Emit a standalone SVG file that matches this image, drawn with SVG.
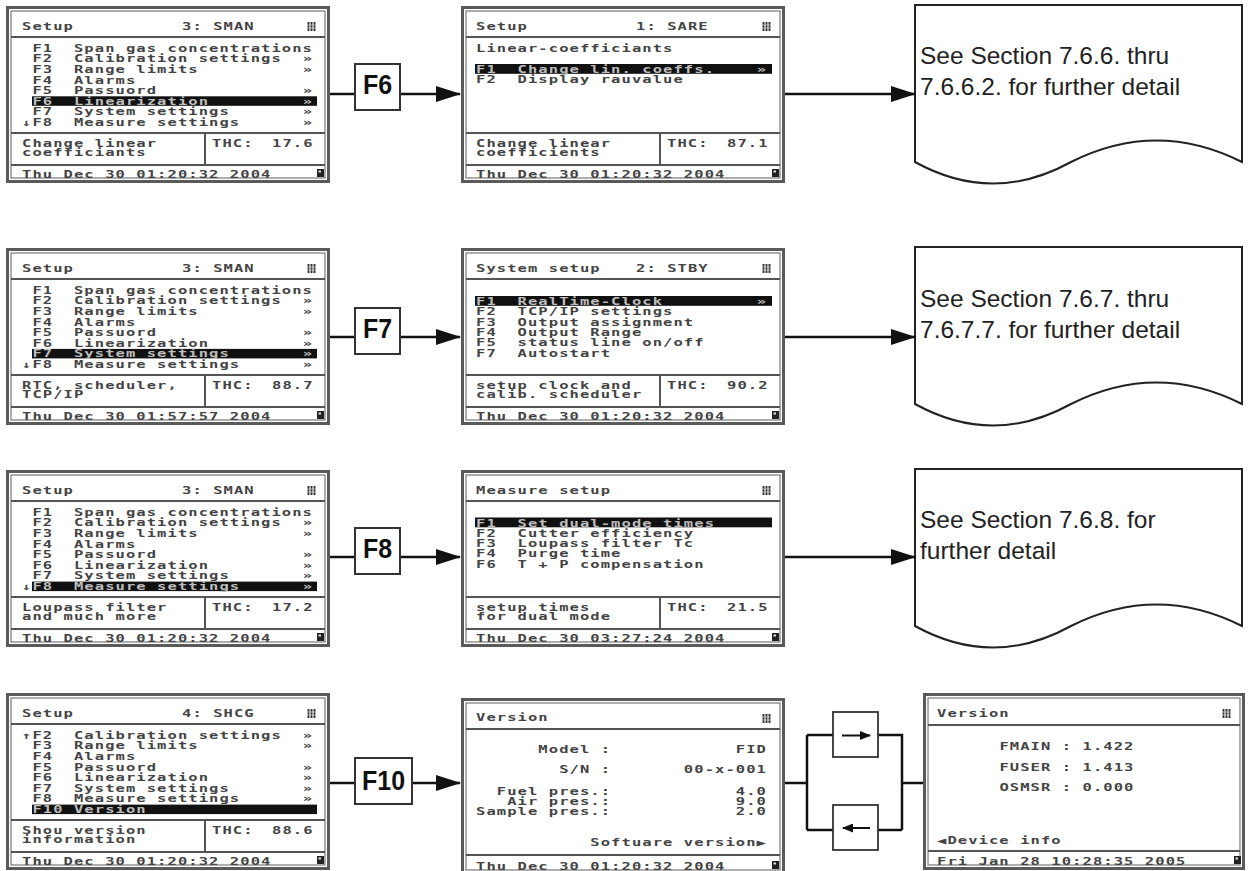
<svg xmlns="http://www.w3.org/2000/svg" width="1249" height="871" viewBox="0 0 1249 871" xml:space="preserve">
<style>
.so{fill:#fff;stroke:#5a5a5a;stroke-width:3}
.si{fill:none;stroke:#777;stroke-width:1.2}
.dv{stroke:#555;stroke-width:2}
.lcd{font-family:"DejaVu Sans Mono","Liberation Mono",monospace;font-weight:bold;font-size:10px;letter-spacing:0.69px;fill:#444;white-space:pre}
.w{fill:#bdbdbd}
.hl{fill:#111}
.doc{fill:#fff;stroke:#222;stroke-width:2}
.dt{font-family:"Liberation Sans",Arial,sans-serif;font-size:24.5px;fill:#222}
.cn{stroke:#111;stroke-width:2.5;fill:none}
.fb{fill:#fff;stroke:#333;stroke-width:2}
.fl{font-family:"Liberation Sans",Arial,sans-serif;font-weight:bold;font-size:25px;fill:#111;text-anchor:middle}
.sb{fill:#fff;stroke:#333;stroke-width:1.8}
</style>
<defs>
<marker id="ah" markerUnits="userSpaceOnUse" markerWidth="25" markerHeight="16" refX="24" refY="8" orient="auto"><path d="M0,0 L25,8 L0,16 Z" fill="#111"/></marker>
<marker id="sa" markerUnits="userSpaceOnUse" markerWidth="11" markerHeight="9" refX="10" refY="4.5" orient="auto"><path d="M0,0 L11,4.5 L0,9 Z" fill="#111"/></marker>
<g id="ticon"><rect x="0" y="0" width="9" height="9" fill="#bbb"/><path d="M1.5,0V9M4.5,0V9M7.5,0V9" stroke="#333" stroke-width="1.4"/><path d="M0,3H9M0,6H9" stroke="#eee" stroke-width="0.6"/></g>
<g id="dicon"><rect x="0" y="0" width="7" height="8" fill="#222"/><rect x="1.5" y="1.5" width="2.5" height="2" fill="#ddd"/></g>
</defs>

<!-- Row 1 -->
<g id="scr-setup-f6" transform="translate(6,6)">
<rect class="so" x="1.5" y="1.5" width="321" height="174"/>
<rect class="si" x="5" y="5" width="314" height="167"/>
<line class="dv" x1="5" y1="31" x2="319" y2="31"/>
<line class="dv" x1="5" y1="127" x2="319" y2="127"/>
<line class="dv" x1="199" y1="127" x2="199" y2="159"/>
<line class="dv" x1="5" y1="159" x2="319" y2="159"/>
<use href="#ticon" x="301" y="16"/>
<use href="#dicon" x="311" y="163"/>
<text class="lcd" transform="translate(16,23.5) scale(1.55,1)">Setup</text>
<text class="lcd" transform="translate(176,23.5) scale(1.55,1)">3: SMAN</text>
<rect class="hl" x="26" y="90.3" width="285" height="9.5"/>
<text class="lcd" transform="translate(16,45.5) scale(1.55,1)"> F1  Span gas concentrations</text>
<text class="lcd" transform="translate(16,56.2) scale(1.55,1)"> F2  Calibration settings</text>
<text class="lcd" transform="translate(16,66.8) scale(1.55,1)"> F3  Range limits</text>
<text class="lcd" transform="translate(16,77.5) scale(1.55,1)"> F4  Alarms</text>
<text class="lcd" transform="translate(16,88.1) scale(1.55,1)"> F5  Passuord</text>
<text class="lcd w" transform="translate(16,98.8) scale(1.55,1)"> F6  Linearization</text>
<text class="lcd" transform="translate(16,109.4) scale(1.55,1)"> F7  System settings</text>
<text class="lcd" transform="translate(16,120.1) scale(1.55,1)">↓F8  Measure settings</text>
<text class="lcd" transform="translate(296.8,56.2) scale(1.55,1)">»</text>
<text class="lcd" transform="translate(296.8,66.8) scale(1.55,1)">»</text>
<text class="lcd" transform="translate(296.8,88.1) scale(1.55,1)">»</text>
<text class="lcd w" transform="translate(296.8,98.8) scale(1.55,1)">»</text>
<text class="lcd" transform="translate(296.8,109.4) scale(1.55,1)">»</text>
<text class="lcd" transform="translate(296.8,120.1) scale(1.55,1)">»</text>
<text class="lcd" transform="translate(16,140.7) scale(1.55,1)">Change linear</text>
<text class="lcd" transform="translate(16,150) scale(1.55,1)">coefficiants</text>
<text class="lcd" transform="translate(206,140.7) scale(1.55,1)">THC:</text>
<text class="lcd" transform="translate(266,140.7) scale(1.55,1)">17.6</text>
<text class="lcd" transform="translate(16,171.5) scale(1.55,1)">Thu Dec 30 01:20:32 2004</text>
</g>

<g id="scr-linear" transform="translate(461,6)">
<rect class="so" x="1.5" y="1.5" width="321" height="174"/>
<rect class="si" x="5" y="5" width="314" height="167"/>
<line class="dv" x1="5" y1="31" x2="319" y2="31"/>
<line class="dv" x1="5" y1="127" x2="319" y2="127"/>
<line class="dv" x1="199" y1="127" x2="199" y2="159"/>
<line class="dv" x1="5" y1="159" x2="319" y2="159"/>
<use href="#ticon" x="301" y="16"/>
<use href="#dicon" x="311" y="163"/>
<text class="lcd" transform="translate(15,23.5) scale(1.55,1)">Setup</text>
<text class="lcd" transform="translate(175,23.5) scale(1.55,1)">1: SARE</text>
<text class="lcd" transform="translate(15,45.7) scale(1.55,1)">Linear-coefficiants</text>
<rect class="hl" x="14" y="58" width="297" height="9.8"/>
<text class="lcd w" transform="translate(15,67) scale(1.55,1)">F1  Change lin. coeffs.</text>
<text class="lcd w" transform="translate(295.8,67) scale(1.55,1)">»</text>
<text class="lcd" transform="translate(15,77.3) scale(1.55,1)">F2  Display rauvalue</text>
<text class="lcd" transform="translate(15,140.7) scale(1.55,1)">Change linear</text>
<text class="lcd" transform="translate(15,150) scale(1.55,1)">coefficients</text>
<text class="lcd" transform="translate(206,140.7) scale(1.55,1)">THC:</text>
<text class="lcd" transform="translate(266,140.7) scale(1.55,1)">87.1</text>
<text class="lcd" transform="translate(15,171.5) scale(1.55,1)">Thu Dec 30 01:20:32 2004</text>
</g>

<g id="doc-766">
<path class="doc" d="M915,5 H1242 V162 C1185,133.3 1128,133.3 1071,162 C1019,190.7 967,190.7 915,162 Z"/>
<text class="dt" x="920" y="64">See Section 7.6.6. thru</text>
<text class="dt" x="920" y="95">7.6.6.2. for further detail</text>
</g>

<!-- Row 2 -->
<g id="scr-setup-f7" transform="translate(6,248)">
<rect class="so" x="1.5" y="1.5" width="321" height="174"/>
<rect class="si" x="5" y="5" width="314" height="167"/>
<line class="dv" x1="5" y1="31" x2="319" y2="31"/>
<line class="dv" x1="5" y1="127" x2="319" y2="127"/>
<line class="dv" x1="199" y1="127" x2="199" y2="159"/>
<line class="dv" x1="5" y1="159" x2="319" y2="159"/>
<use href="#ticon" x="301" y="16"/>
<use href="#dicon" x="311" y="163"/>
<text class="lcd" transform="translate(16,23.5) scale(1.55,1)">Setup</text>
<text class="lcd" transform="translate(176,23.5) scale(1.55,1)">3: SMAN</text>
<rect class="hl" x="26" y="100.9" width="285" height="9.5"/>
<text class="lcd" transform="translate(16,45.5) scale(1.55,1)"> F1  Span gas concentrations</text>
<text class="lcd" transform="translate(16,56.2) scale(1.55,1)"> F2  Calibration settings</text>
<text class="lcd" transform="translate(16,66.8) scale(1.55,1)"> F3  Range limits</text>
<text class="lcd" transform="translate(16,77.5) scale(1.55,1)"> F4  Alarms</text>
<text class="lcd" transform="translate(16,88.1) scale(1.55,1)"> F5  Passuord</text>
<text class="lcd" transform="translate(16,98.8) scale(1.55,1)"> F6  Linearization</text>
<text class="lcd w" transform="translate(16,109.4) scale(1.55,1)"> F7  System settings</text>
<text class="lcd" transform="translate(16,120.1) scale(1.55,1)">↓F8  Measure settings</text>
<text class="lcd" transform="translate(296.8,56.2) scale(1.55,1)">»</text>
<text class="lcd" transform="translate(296.8,66.8) scale(1.55,1)">»</text>
<text class="lcd" transform="translate(296.8,88.1) scale(1.55,1)">»</text>
<text class="lcd" transform="translate(296.8,98.8) scale(1.55,1)">»</text>
<text class="lcd w" transform="translate(296.8,109.4) scale(1.55,1)">»</text>
<text class="lcd" transform="translate(296.8,120.1) scale(1.55,1)">»</text>
<text class="lcd" transform="translate(16,140.7) scale(1.55,1)">RTC, scheduler,</text>
<text class="lcd" transform="translate(16,150) scale(1.55,1)">TCP/IP</text>
<text class="lcd" transform="translate(206,140.7) scale(1.55,1)">THC:</text>
<text class="lcd" transform="translate(266,140.7) scale(1.55,1)">88.7</text>
<text class="lcd" transform="translate(16,171.5) scale(1.55,1)">Thu Dec 30 01:57:57 2004</text>
</g>

<g id="scr-system" transform="translate(461,248)">
<rect class="so" x="1.5" y="1.5" width="321" height="174"/>
<rect class="si" x="5" y="5" width="314" height="167"/>
<line class="dv" x1="5" y1="31" x2="319" y2="31"/>
<line class="dv" x1="5" y1="127" x2="319" y2="127"/>
<line class="dv" x1="199" y1="127" x2="199" y2="159"/>
<line class="dv" x1="5" y1="159" x2="319" y2="159"/>
<use href="#ticon" x="301" y="16"/>
<use href="#dicon" x="311" y="163"/>
<text class="lcd" transform="translate(15,23.5) scale(1.55,1)">System setup</text>
<text class="lcd" transform="translate(175,23.5) scale(1.55,1)">2: STBY</text>
<rect class="hl" x="14" y="48" width="297" height="9.8"/>
<text class="lcd w" transform="translate(15,57) scale(1.55,1)">F1  RealTime-Clock</text>
<text class="lcd w" transform="translate(295.8,57) scale(1.55,1)">»</text>
<text class="lcd" transform="translate(15,67.3) scale(1.55,1)">F2  TCP/IP settings</text>
<text class="lcd" transform="translate(15,77.6) scale(1.55,1)">F3  Output assignment</text>
<text class="lcd" transform="translate(15,87.9) scale(1.55,1)">F4  Output Range</text>
<text class="lcd" transform="translate(15,98.2) scale(1.55,1)">F5  status line on/off</text>
<text class="lcd" transform="translate(15,108.5) scale(1.55,1)">F7  Autostart</text>
<text class="lcd" transform="translate(15,140.7) scale(1.55,1)">setup clock and</text>
<text class="lcd" transform="translate(15,150) scale(1.55,1)">calib. scheduler</text>
<text class="lcd" transform="translate(206,140.7) scale(1.55,1)">THC:</text>
<text class="lcd" transform="translate(266,140.7) scale(1.55,1)">90.2</text>
<text class="lcd" transform="translate(15,171.5) scale(1.55,1)">Thu Dec 30 01:20:32 2004</text>
</g>

<g id="doc-767">
<path class="doc" d="M915,247 H1242 V404 C1185,375.3 1128,375.3 1071,404 C1019,432.7 967,432.7 915,404 Z"/>
<text class="dt" x="920" y="307">See Section 7.6.7. thru</text>
<text class="dt" x="920" y="338">7.6.7.7. for further detail</text>
</g>

<!-- Row 3 -->
<g id="scr-setup-f8" transform="translate(6,470)">
<rect class="so" x="1.5" y="1.5" width="321" height="174"/>
<rect class="si" x="5" y="5" width="314" height="167"/>
<line class="dv" x1="5" y1="31" x2="319" y2="31"/>
<line class="dv" x1="5" y1="127" x2="319" y2="127"/>
<line class="dv" x1="199" y1="127" x2="199" y2="159"/>
<line class="dv" x1="5" y1="159" x2="319" y2="159"/>
<use href="#ticon" x="301" y="16"/>
<use href="#dicon" x="311" y="163"/>
<text class="lcd" transform="translate(16,23.5) scale(1.55,1)">Setup</text>
<text class="lcd" transform="translate(176,23.5) scale(1.55,1)">3: SMAN</text>
<rect class="hl" x="26" y="111.6" width="285" height="9.5"/>
<text class="lcd" transform="translate(16,45.5) scale(1.55,1)"> F1  Span gas concentrations</text>
<text class="lcd" transform="translate(16,56.2) scale(1.55,1)"> F2  Calibration settings</text>
<text class="lcd" transform="translate(16,66.8) scale(1.55,1)"> F3  Range limits</text>
<text class="lcd" transform="translate(16,77.5) scale(1.55,1)"> F4  Alarms</text>
<text class="lcd" transform="translate(16,88.1) scale(1.55,1)"> F5  Passuord</text>
<text class="lcd" transform="translate(16,98.8) scale(1.55,1)"> F6  Linearization</text>
<text class="lcd" transform="translate(16,109.4) scale(1.55,1)"> F7  System settings</text>
<text class="lcd" transform="translate(16,120.1) scale(1.55,1)">↓<tspan class="w">F8  Measure settings</tspan></text>
<text class="lcd" transform="translate(296.8,56.2) scale(1.55,1)">»</text>
<text class="lcd" transform="translate(296.8,66.8) scale(1.55,1)">»</text>
<text class="lcd" transform="translate(296.8,88.1) scale(1.55,1)">»</text>
<text class="lcd" transform="translate(296.8,98.8) scale(1.55,1)">»</text>
<text class="lcd" transform="translate(296.8,109.4) scale(1.55,1)">»</text>
<text class="lcd w" transform="translate(296.8,120.1) scale(1.55,1)">»</text>
<text class="lcd" transform="translate(16,140.7) scale(1.55,1)">Loupass filter</text>
<text class="lcd" transform="translate(16,150) scale(1.55,1)">and much more</text>
<text class="lcd" transform="translate(206,140.7) scale(1.55,1)">THC:</text>
<text class="lcd" transform="translate(266,140.7) scale(1.55,1)">17.2</text>
<text class="lcd" transform="translate(16,171.5) scale(1.55,1)">Thu Dec 30 01:20:32 2004</text>
</g>

<g id="scr-measure" transform="translate(461,470)">
<rect class="so" x="1.5" y="1.5" width="321" height="174"/>
<rect class="si" x="5" y="5" width="314" height="167"/>
<line class="dv" x1="5" y1="31" x2="319" y2="31"/>
<line class="dv" x1="5" y1="127" x2="319" y2="127"/>
<line class="dv" x1="199" y1="127" x2="199" y2="159"/>
<line class="dv" x1="5" y1="159" x2="319" y2="159"/>
<use href="#ticon" x="301" y="16"/>
<use href="#dicon" x="311" y="163"/>
<text class="lcd" transform="translate(15,23.5) scale(1.55,1)">Measure setup</text>
<rect class="hl" x="14" y="47.5" width="297" height="9.8"/>
<text class="lcd w" transform="translate(15,56.5) scale(1.55,1)">F1  Set dual-mode times</text>
<text class="lcd" transform="translate(15,66.8) scale(1.55,1)">F2  Cutter efficiency</text>
<text class="lcd" transform="translate(15,77.1) scale(1.55,1)">F3  Loupass filter Tc</text>
<text class="lcd" transform="translate(15,87.4) scale(1.55,1)">F4  Purge time</text>
<text class="lcd" transform="translate(15,97.7) scale(1.55,1)">F6  T + P compensation</text>
<text class="lcd" transform="translate(15,140.7) scale(1.55,1)">setup times</text>
<text class="lcd" transform="translate(15,150) scale(1.55,1)">for dual mode</text>
<text class="lcd" transform="translate(206,140.7) scale(1.55,1)">THC:</text>
<text class="lcd" transform="translate(266,140.7) scale(1.55,1)">21.5</text>
<text class="lcd" transform="translate(15,171.5) scale(1.55,1)">Thu Dec 30 03:27:24 2004</text>
</g>

<g id="doc-768">
<path class="doc" d="M915,469 H1242 V626 C1185,597.3 1128,597.3 1071,626 C1019,654.7 967,654.7 915,626 Z"/>
<text class="dt" x="920" y="528">See Section 7.6.8. for</text>
<text class="dt" x="920" y="559">further detail</text>
</g>

<!-- Row 4 -->
<g id="scr-setup-f10" transform="translate(6,693)">
<rect class="so" x="1.5" y="1.5" width="321" height="174"/>
<rect class="si" x="5" y="5" width="314" height="167"/>
<line class="dv" x1="5" y1="31" x2="319" y2="31"/>
<line class="dv" x1="5" y1="127" x2="319" y2="127"/>
<line class="dv" x1="199" y1="127" x2="199" y2="159"/>
<line class="dv" x1="5" y1="159" x2="319" y2="159"/>
<use href="#ticon" x="301" y="16"/>
<use href="#dicon" x="311" y="163"/>
<text class="lcd" transform="translate(16,23.5) scale(1.55,1)">Setup</text>
<text class="lcd" transform="translate(176,23.5) scale(1.55,1)">4: SHCG</text>
<rect class="hl" x="26" y="111.6" width="285" height="9.5"/>
<text class="lcd" transform="translate(16,45.5) scale(1.55,1)">↑F2  Calibration settings</text>
<text class="lcd" transform="translate(16,56.2) scale(1.55,1)"> F3  Range limits</text>
<text class="lcd" transform="translate(16,66.8) scale(1.55,1)"> F4  Alarms</text>
<text class="lcd" transform="translate(16,77.5) scale(1.55,1)"> F5  Passuord</text>
<text class="lcd" transform="translate(16,88.1) scale(1.55,1)"> F6  Linearization</text>
<text class="lcd" transform="translate(16,98.8) scale(1.55,1)"> F7  System settings</text>
<text class="lcd" transform="translate(16,109.4) scale(1.55,1)"> F8  Measure settings</text>
<text class="lcd w" transform="translate(16,120.1) scale(1.55,1)"> F10 Version</text>
<text class="lcd" transform="translate(296.8,45.5) scale(1.55,1)">»</text>
<text class="lcd" transform="translate(296.8,56.2) scale(1.55,1)">»</text>
<text class="lcd" transform="translate(296.8,77.5) scale(1.55,1)">»</text>
<text class="lcd" transform="translate(296.8,88.1) scale(1.55,1)">»</text>
<text class="lcd" transform="translate(296.8,98.8) scale(1.55,1)">»</text>
<text class="lcd" transform="translate(296.8,109.4) scale(1.55,1)">»</text>
<text class="lcd" transform="translate(16,140.7) scale(1.55,1)">Shou version</text>
<text class="lcd" transform="translate(16,150) scale(1.55,1)">information</text>
<text class="lcd" transform="translate(206,140.7) scale(1.55,1)">THC:</text>
<text class="lcd" transform="translate(266,140.7) scale(1.55,1)">88.6</text>
<text class="lcd" transform="translate(16,171.5) scale(1.55,1)">Thu Dec 30 01:20:32 2004</text>
</g>

<g id="scr-version" transform="translate(461,698)">
<rect class="so" x="1.5" y="1.5" width="321" height="174"/>
<rect class="si" x="5" y="5" width="314" height="167"/>
<line class="dv" x1="5" y1="31" x2="319" y2="31"/>
<line class="dv" x1="5" y1="157" x2="319" y2="157"/>
<use href="#ticon" x="301" y="16"/>
<use href="#dicon" x="311" y="163"/>
<text class="lcd" transform="translate(15,23.4) scale(1.55,1)">Version</text>
<text class="lcd" transform="translate(15,55) scale(1.55,1)">      Model :            FID</text>
<text class="lcd" transform="translate(15,75) scale(1.55,1)">        S/N :       00-x-001</text>
<text class="lcd" transform="translate(15,96.7) scale(1.55,1)">  Fuel pres.:            4.0</text>
<text class="lcd" transform="translate(15,106.7) scale(1.55,1)">   Air pres.:            9.0</text>
<text class="lcd" transform="translate(15,116.7) scale(1.55,1)">Sample pres.:            2.0</text>
<text class="lcd" transform="translate(15,148.4) scale(1.55,1)">           Softuare version▶</text>
<text class="lcd" transform="translate(15,172) scale(1.55,1)">Thu Dec 30 01:20:32 2004</text>
</g>

<g id="scr-version-info" transform="translate(923,693)">
<rect class="so" x="1.5" y="1.5" width="319" height="174"/>
<rect class="si" x="5" y="5" width="312" height="167"/>
<line class="dv" x1="5" y1="32" x2="317" y2="32"/>
<line class="dv" x1="5" y1="158" x2="317" y2="158"/>
<use href="#ticon" x="299" y="16"/>
<use href="#dicon" x="311" y="163"/>
<text class="lcd" transform="translate(14,24.3) scale(1.55,1)">Version</text>
<text class="lcd" transform="translate(76.4,57) scale(1.55,1)">FMAIN : 1.422</text>
<text class="lcd" transform="translate(76.4,77.7) scale(1.55,1)">FUSER : 1.413</text>
<text class="lcd" transform="translate(76.4,97.7) scale(1.55,1)">OSMSR : 0.000</text>
<text class="lcd" transform="translate(14,151) scale(1.55,1)">◀Device info</text>
<text class="lcd" transform="translate(14,172) scale(1.55,1)">Fri Jan 28 10:28:35 2005</text>
</g>

<!-- Connectors -->
<g id="connectors">
<line class="cn" x1="330" y1="94" x2="355" y2="94"/>
<line class="cn" x1="400" y1="94" x2="460" y2="94" marker-end="url(#ah)"/>
<line class="cn" x1="785" y1="94" x2="915" y2="94" marker-end="url(#ah)"/>
<line class="cn" x1="330" y1="337" x2="355" y2="337"/>
<line class="cn" x1="400" y1="337" x2="460" y2="337" marker-end="url(#ah)"/>
<line class="cn" x1="785" y1="337" x2="915" y2="337" marker-end="url(#ah)"/>
<line class="cn" x1="330" y1="557" x2="355" y2="557"/>
<line class="cn" x1="400" y1="557" x2="460" y2="557" marker-end="url(#ah)"/>
<line class="cn" x1="785" y1="557" x2="915" y2="557" marker-end="url(#ah)"/>
<line class="cn" x1="330" y1="783" x2="355" y2="783"/>
<line class="cn" x1="412" y1="783" x2="460" y2="783" marker-end="url(#ah)"/>
<path class="cn" d="M785,783 H807 M807,735 V830 M807,735 H833 M878,735 H902 V830 M807,830 H833 M878,830 H902 M902,783 H923"/>
</g>

<g id="key-f6"><rect class="fb" x="355" y="64" width="45" height="46"/><text class="fl" transform="translate(377.5,94) scale(1,1.12)">F6</text></g>
<g id="key-f7"><rect class="fb" x="355" y="308" width="45" height="46"/><text class="fl" transform="translate(377.5,338) scale(1,1.12)">F7</text></g>
<g id="key-f8"><rect class="fb" x="355" y="528" width="45" height="46"/><text class="fl" transform="translate(377.5,558) scale(1,1.12)">F8</text></g>
<g id="key-f10"><rect class="fb" x="355" y="758" width="57" height="46"/><text class="fl" transform="translate(383.5,790) scale(1,1.12)">F10</text></g>

<g id="btn-next"><rect class="sb" x="833" y="712" width="45" height="45"/><line x1="842" y1="735.5" x2="870" y2="735.5" stroke="#111" stroke-width="2" marker-end="url(#sa)"/></g>
<g id="btn-prev"><rect class="sb" x="833" y="805" width="45" height="45"/><line x1="870" y1="828" x2="843" y2="828" stroke="#111" stroke-width="2" marker-end="url(#sa)"/></g>
</svg>
